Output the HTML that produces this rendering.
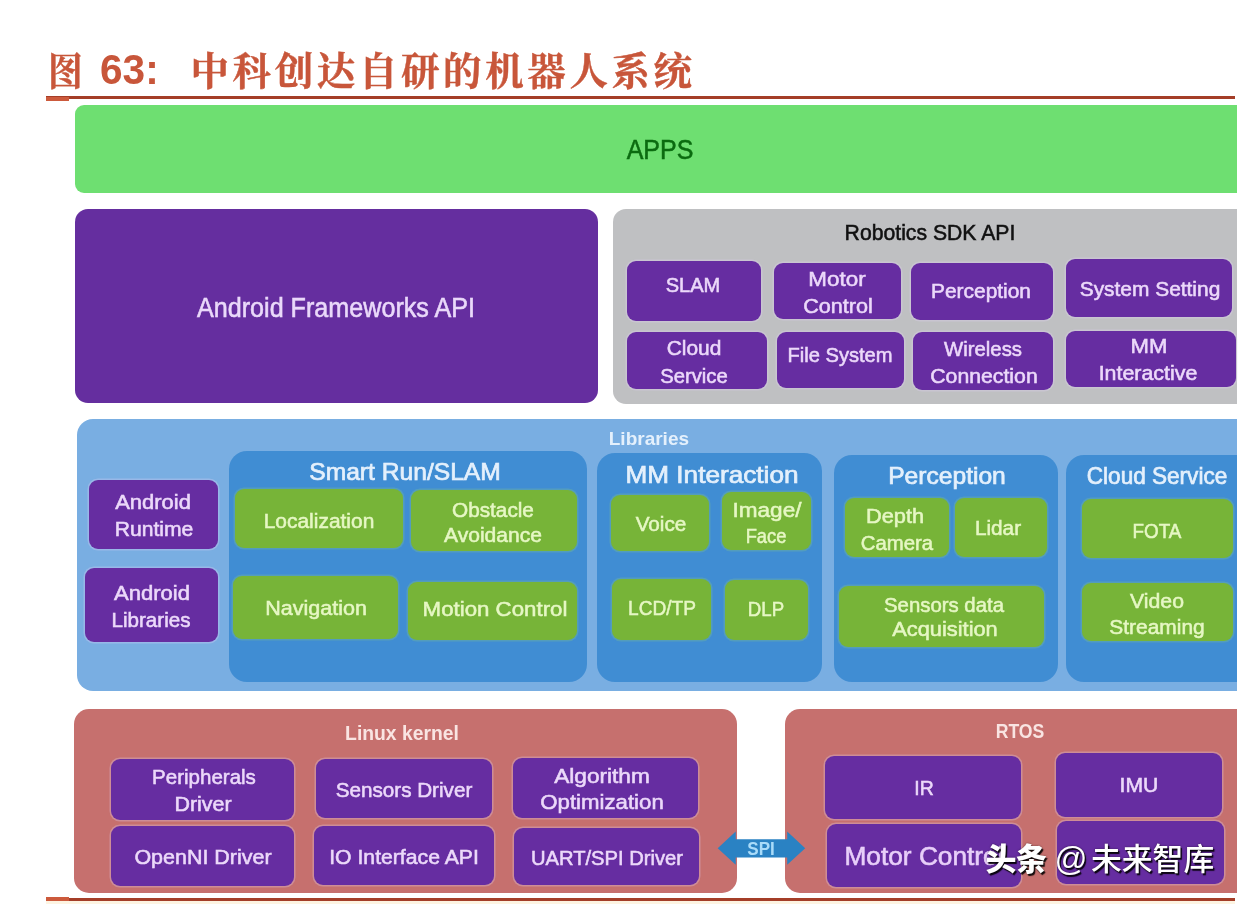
<!DOCTYPE html>
<html lang="zh-CN">
<head>
<meta charset="utf-8">
<title>图 63: 中科创达自研的机器人系统</title>
<style>
html,body{margin:0;padding:0;background:#fff}
body{width:1242px;height:904px;overflow:hidden;font-family:"Liberation Sans","Noto Sans CJK SC",sans-serif}
#page{position:relative;width:1242px;height:904px;overflow:hidden;background:#fff}
#art{position:absolute;left:0;top:0;width:1242px;height:904px;filter:blur(.6px)}
.bx,.sb,.t,.ln{position:absolute;box-sizing:border-box}
.apps{background:#6edf71}
.afw{background:#652e9f}
.sdk{background:#bfc0c2}
.lib{background:#79aee2}
.grp{background:#408dd3}
.krn{background:#c6706e}
.sb{border-radius:9px}
.sb.p{background:#662da1;box-shadow:0 0 0 1.5px rgba(226,208,246,.3)}
.sb.g{background:#77b438;box-shadow:0 0 0 1.5px rgba(120,190,150,.35)}
.t{white-space:pre;transform-origin:50% 50%;-webkit-text-stroke:.55px currentColor}
.pt{color:#ecd9fa}
.st{color:#e6f7c4}
.gt{color:#e4f0fc}
.lib-t{color:#e4f0fc}
.kt{color:#f9e4e2}
.apps-t{color:#0b6b10}
.afw-t{color:#ead9fa}
.sdk-t{color:#111}
.mc{color:#e8cff9}
.spi{color:#a9dbf9;font-weight:700;-webkit-text-stroke:0 !important}
.ln{background:#a43e28}
.ln.lt{background:#cc5a3c}
.cream{position:absolute;background:#fdf4e2}
.ttl{position:absolute;left:0;top:0;width:800px;height:96px;color:#c8563a;font-weight:700}
.ttl span{position:absolute;white-space:nowrap;line-height:50px;top:44px}
.ttl .fig{left:99.5px;font-family:"Liberation Sans",sans-serif;font-size:42.5px;top:45px;transform:scaleX(.955);transform-origin:0 50%}
.ttl .cn{font-family:"Noto Serif CJK SC","Noto Sans CJK SC",serif;font-size:38.5px;font-weight:700;-webkit-text-stroke:.4px currentColor}
.ttl .c1{left:47.5px;transform:scaleX(.9);transform-origin:0 50%}
.ttl .c2{left:190.5px;letter-spacing:3.6px}
.lib-t,.kt{font-weight:700}
.wm{position:absolute;left:0;top:0;color:#fff;white-space:nowrap;font-family:"Liberation Sans","Noto Sans CJK SC",sans-serif;text-shadow:1.5px 1.5px 1px rgba(0,0,0,.9),0 0 2px rgba(0,0,0,.5)}
.wm span{position:absolute;line-height:44px;top:838px}
.wm .w1{left:985.5px;font-size:31px;font-weight:900;letter-spacing:-.6px}
.wm .w2{left:1054.5px;font-size:32.5px;top:836.5px}
.wm .w3{left:1091px;font-size:30.8px;font-weight:500}
.lib-t,.kt{-webkit-text-stroke:0 !important}
.gt{-webkit-text-stroke:.7px currentColor !important}

</style>
</head>
<body>
<div id="page">
<div id="art">
<div class="ttl"><span class="cn c1">图</span><span class="fig">63:</span><span class="cn c2">中科创达自研的机器人系统</span></div>
<div class="ln" style="left:46px;top:96.4px;width:1189px;height:2.5px"></div>
<div class="ln lt" style="left:46px;top:97.2px;width:23px;height:3.4px"></div>
<div class="ln" style="left:46px;top:898.3px;width:1189px;height:2.5px"></div>
<div class="ln lt" style="left:46px;top:896.5px;width:23px;height:4.3px"></div>
<div class="cream" style="left:46px;top:901px;width:1189px;height:3px"></div>

<div class="bx apps" style="left:75px;top:105px;width:1162px;height:88px;border-radius:9px 0 0 9px"></div>
<div class="bx afw" style="left:74.5px;top:208.7px;width:523.5px;height:194.3px;border-radius:13px"></div>
<div class="bx sdk" style="left:613px;top:208.5px;width:624px;height:195px;border-radius:13px 0 0 13px"></div>
<div class="bx lib" style="left:77px;top:419px;width:1160px;height:271.5px;border-radius:16px 0 0 16px"></div>
<div class="bx grp" style="left:228.5px;top:451px;width:358.5px;height:231px;border-radius:18px"></div>
<div class="bx grp" style="left:597px;top:453px;width:225px;height:229px;border-radius:18px"></div>
<div class="bx grp" style="left:833.5px;top:455px;width:224.5px;height:227px;border-radius:18px"></div>
<div class="bx grp" style="left:1065.5px;top:455px;width:171.5px;height:227px;border-radius:18px 0 0 18px"></div>
<div class="bx krn" style="left:73.5px;top:709px;width:663px;height:183.5px;border-radius:15px"></div>
<div class="bx krn" style="left:785px;top:709px;width:452px;height:183.5px;border-radius:15px 0 0 15px"></div>
<div class="sb p" style="left:627px;top:260.5px;width:133.5px;height:60px"></div>
<div class="sb p" style="left:774px;top:262.5px;width:127px;height:56px"></div>
<div class="sb p" style="left:911px;top:263px;width:141.5px;height:57px"></div>
<div class="sb p" style="left:1065.5px;top:259px;width:166.5px;height:57.5px"></div>
<div class="sb p" style="left:627px;top:332px;width:140px;height:57px"></div>
<div class="sb p" style="left:776.5px;top:332px;width:127.5px;height:55.5px"></div>
<div class="sb p" style="left:913px;top:332px;width:139.5px;height:57.5px"></div>
<div class="sb p" style="left:1065.5px;top:331px;width:170.5px;height:56px"></div>
<div class="sb p" style="left:88.8px;top:480px;width:129.2px;height:69px"></div>
<div class="sb p" style="left:85px;top:568px;width:133px;height:73.5px"></div>
<div class="sb g" style="left:235px;top:489px;width:167.5px;height:59px"></div>
<div class="sb g" style="left:410.5px;top:490px;width:166px;height:61px"></div>
<div class="sb g" style="left:233px;top:576px;width:164.5px;height:62.5px"></div>
<div class="sb g" style="left:408px;top:581.5px;width:168.5px;height:58.5px"></div>
<div class="sb g" style="left:611px;top:495px;width:98px;height:56px"></div>
<div class="sb g" style="left:722px;top:492px;width:89px;height:57.5px"></div>
<div class="sb g" style="left:612px;top:579px;width:99px;height:60.5px"></div>
<div class="sb g" style="left:725px;top:580px;width:83px;height:60px"></div>
<div class="sb g" style="left:844.5px;top:498px;width:104px;height:59px"></div>
<div class="sb g" style="left:955px;top:498px;width:91.5px;height:59px"></div>
<div class="sb g" style="left:839px;top:585.5px;width:205px;height:61px"></div>
<div class="sb g" style="left:1081.5px;top:499px;width:151px;height:59px"></div>
<div class="sb g" style="left:1081.5px;top:583px;width:151px;height:58px"></div>
<div class="sb p" style="left:111px;top:759px;width:183px;height:60.5px"></div>
<div class="sb p" style="left:316px;top:759px;width:175.5px;height:58.5px"></div>
<div class="sb p" style="left:512.5px;top:758px;width:185px;height:59.5px"></div>
<div class="sb p" style="left:111px;top:825.5px;width:183px;height:60px"></div>
<div class="sb p" style="left:314px;top:826px;width:179.5px;height:59px"></div>
<div class="sb p" style="left:514px;top:827.5px;width:185px;height:57.5px"></div>
<div class="sb p" style="left:825px;top:756px;width:196px;height:62.5px"></div>
<div class="sb p" style="left:1055.5px;top:752.5px;width:166px;height:64px"></div>
<div class="sb p" style="left:826.5px;top:824px;width:194.5px;height:63px"></div>
<div class="sb p" style="left:1057px;top:820.5px;width:167px;height:63.5px"></div>
<svg class="bx" style="left:715px;top:828px" width="94" height="40" viewBox="715 828 94 40"><polygon points="717.7,848.2 735.7,831.4 735.7,839.3 787.2,839.3 787.2,831.4 805.2,848.2 787.2,864.8 787.2,857.5 735.7,857.5 735.7,864.8" fill="#2a82c3"/></svg>

<span class="t apps-t" style="left:660.4px;top:136.4px;font-size:28px;line-height:28px;transform:translateX(-50%) scaleX(0.893)">APPS</span>
<span class="t afw-t" style="left:335.9px;top:295.14px;font-size:27px;line-height:27px;transform:translateX(-50%) scaleX(0.931)">Android Frameworks API</span>
<span class="t sdk-t" style="left:930.3px;top:222.18px;font-size:22px;line-height:22px;transform:translateX(-50%) scaleX(0.963)">Robotics SDK API</span>
<span class="t pt" style="left:692.5px;top:274.22px;font-size:21px;line-height:21px;transform:translateX(-50%) scaleX(0.955)">SLAM</span>
<span class="t pt" style="left:836.9px;top:268.02px;font-size:21px;line-height:21px;transform:translateX(-50%) scaleX(1.067)">Motor</span>
<span class="t pt" style="left:837.9px;top:294.82px;font-size:21px;line-height:21px;transform:translateX(-50%) scaleX(1.028)">Control</span>
<span class="t pt" style="left:980.9px;top:280.02px;font-size:21px;line-height:21px;transform:translateX(-50%) scaleX(0.996)">Perception</span>
<span class="t pt" style="left:1149.9px;top:277.82px;font-size:21px;line-height:21px;transform:translateX(-50%) scaleX(0.995)">System Setting</span>
<span class="t pt" style="left:693.8px;top:336.82px;font-size:21px;line-height:21px;transform:translateX(-50%) scaleX(0.995)">Cloud</span>
<span class="t pt" style="left:694.3px;top:364.72px;font-size:21px;line-height:21px;transform:translateX(-50%) scaleX(0.964)">Service</span>
<span class="t pt" style="left:840px;top:344.12px;font-size:21px;line-height:21px;transform:translateX(-50%) scaleX(0.958)">File System</span>
<span class="t pt" style="left:983px;top:337.82px;font-size:21px;line-height:21px;transform:translateX(-50%) scaleX(0.968)">Wireless</span>
<span class="t pt" style="left:983.5px;top:364.82px;font-size:21px;line-height:21px;transform:translateX(-50%) scaleX(1.011)">Connection</span>
<span class="t pt" style="left:1149.3px;top:335.12px;font-size:21px;line-height:21px;transform:translateX(-50%) scaleX(1.054)">MM</span>
<span class="t pt" style="left:1148.2px;top:361.82px;font-size:21px;line-height:21px;transform:translateX(-50%) scaleX(1.018)">Interactive</span>
<span class="t lib-t" style="left:648.9px;top:429.22px;font-size:19px;line-height:19px;transform:translateX(-50%) scaleX(1.000)">Libraries</span>
<span class="t gt" style="left:405.3px;top:459.68px;font-size:24px;line-height:24px;transform:translateX(-50%) scaleX(1.026)">Smart Run/SLAM</span>
<span class="t gt" style="left:711.5px;top:462.68px;font-size:24px;line-height:24px;transform:translateX(-50%) scaleX(1.090)">MM Interaction</span>
<span class="t gt" style="left:946.8px;top:464.08px;font-size:24px;line-height:24px;transform:translateX(-50%) scaleX(1.025)">Perception</span>
<span class="t gt" style="left:1157.3px;top:464.08px;font-size:24px;line-height:24px;transform:translateX(-50%) scaleX(0.940)">Cloud Service</span>
<span class="t pt" style="left:153px;top:491.02px;font-size:21px;line-height:21px;transform:translateX(-50%) scaleX(1.046)">Android</span>
<span class="t pt" style="left:153.8px;top:518.22px;font-size:21px;line-height:21px;transform:translateX(-50%) scaleX(1.005)">Runtime</span>
<span class="t pt" style="left:151.9px;top:582.12px;font-size:21px;line-height:21px;transform:translateX(-50%) scaleX(1.050)">Android</span>
<span class="t pt" style="left:151.4px;top:609.42px;font-size:21px;line-height:21px;transform:translateX(-50%) scaleX(0.980)">Libraries</span>
<span class="t st" style="left:319px;top:510.22px;font-size:21px;line-height:21px;transform:translateX(-50%) scaleX(0.997)">Localization</span>
<span class="t st" style="left:316.1px;top:596.82px;font-size:21px;line-height:21px;transform:translateX(-50%) scaleX(1.025)">Navigation</span>
<span class="t st" style="left:493.1px;top:498.72px;font-size:21px;line-height:21px;transform:translateX(-50%) scaleX(0.987)">Obstacle</span>
<span class="t st" style="left:493.1px;top:524.42px;font-size:21px;line-height:21px;transform:translateX(-50%) scaleX(1.001)">Avoidance</span>
<span class="t st" style="left:494.7px;top:597.52px;font-size:21px;line-height:21px;transform:translateX(-50%) scaleX(1.060)">Motion Control</span>
<span class="t st" style="left:660.5px;top:513.42px;font-size:21px;line-height:21px;transform:translateX(-50%) scaleX(0.985)">Voice</span>
<span class="t st" style="left:766.8px;top:499.02px;font-size:21px;line-height:21px;transform:translateX(-50%) scaleX(1.073)">Image/</span>
<span class="t st" style="left:765.6px;top:525.32px;font-size:21px;line-height:21px;transform:translateX(-50%) scaleX(0.872)">Face</span>
<span class="t st" style="left:662.1px;top:596.82px;font-size:21px;line-height:21px;transform:translateX(-50%) scaleX(0.910)">LCD/TP</span>
<span class="t st" style="left:765.6px;top:597.52px;font-size:21px;line-height:21px;transform:translateX(-50%) scaleX(0.888)">DLP</span>
<span class="t st" style="left:895.4px;top:504.52px;font-size:21px;line-height:21px;transform:translateX(-50%) scaleX(1.037)">Depth</span>
<span class="t st" style="left:896.9px;top:531.72px;font-size:21px;line-height:21px;transform:translateX(-50%) scaleX(0.969)">Camera</span>
<span class="t st" style="left:998.2px;top:517.32px;font-size:21px;line-height:21px;transform:translateX(-50%) scaleX(0.989)">Lidar</span>
<span class="t st" style="left:944px;top:593.62px;font-size:21px;line-height:21px;transform:translateX(-50%) scaleX(0.969)">Sensors data</span>
<span class="t st" style="left:944.5px;top:618.32px;font-size:21px;line-height:21px;transform:translateX(-50%) scaleX(1.039)">Acquisition</span>
<span class="t st" style="left:1156.7px;top:519.52px;font-size:21px;line-height:21px;transform:translateX(-50%) scaleX(0.896)">FOTA</span>
<span class="t st" style="left:1157.3px;top:589.52px;font-size:21px;line-height:21px;transform:translateX(-50%) scaleX(1.010)">Video</span>
<span class="t st" style="left:1156.5px;top:615.82px;font-size:21px;line-height:21px;transform:translateX(-50%) scaleX(0.996)">Streaming</span>
<span class="t kt" style="left:401.9px;top:722.97px;font-size:20px;line-height:20px;transform:translateX(-50%) scaleX(0.966)">Linux kernel</span>
<span class="t kt" style="left:1020px;top:720.87px;font-size:20px;line-height:20px;transform:translateX(-50%) scaleX(0.882)">RTOS</span>
<span class="t pt" style="left:203.5px;top:765.52px;font-size:21px;line-height:21px;transform:translateX(-50%) scaleX(0.977)">Peripherals</span>
<span class="t pt" style="left:202.8px;top:792.52px;font-size:21px;line-height:21px;transform:translateX(-50%) scaleX(1.020)">Driver</span>
<span class="t pt" style="left:202.8px;top:845.52px;font-size:21px;line-height:21px;transform:translateX(-50%) scaleX(1.022)">OpenNI Driver</span>
<span class="t pt" style="left:403.9px;top:778.62px;font-size:21px;line-height:21px;transform:translateX(-50%) scaleX(0.983)">Sensors Driver</span>
<span class="t pt" style="left:403.8px;top:845.52px;font-size:21px;line-height:21px;transform:translateX(-50%) scaleX(1.009)">IO Interface API</span>
<span class="t pt" style="left:601.7px;top:765.02px;font-size:21px;line-height:21px;transform:translateX(-50%) scaleX(1.079)">Algorithm</span>
<span class="t pt" style="left:601.7px;top:790.52px;font-size:21px;line-height:21px;transform:translateX(-50%) scaleX(1.058)">Optimization</span>
<span class="t pt" style="left:606.8px;top:847.02px;font-size:21px;line-height:21px;transform:translateX(-50%) scaleX(0.961)">UART/SPI Driver</span>
<span class="t pt" style="left:923.6px;top:777.42px;font-size:21px;line-height:21px;transform:translateX(-50%) scaleX(0.924)">IR</span>
<span class="t pt" style="left:1138.5px;top:774.22px;font-size:21px;line-height:21px;transform:translateX(-50%) scaleX(1.008)">IMU</span>
<span class="t mc" style="left:923.5px;top:844.24px;font-size:25px;line-height:25px;transform:translateX(-50%) scaleX(1.050)">Motor Control</span>
<span class="t spi" style="left:761.3px;top:838.72px;font-size:19px;line-height:19px;transform:translateX(-50%) scaleX(0.898)">SPI</span>
<div class="wm"><span class="w1">头条</span><span class="w2">@</span><span class="w3">未来智库</span></div>

</div>
</div>
</body>
</html>
